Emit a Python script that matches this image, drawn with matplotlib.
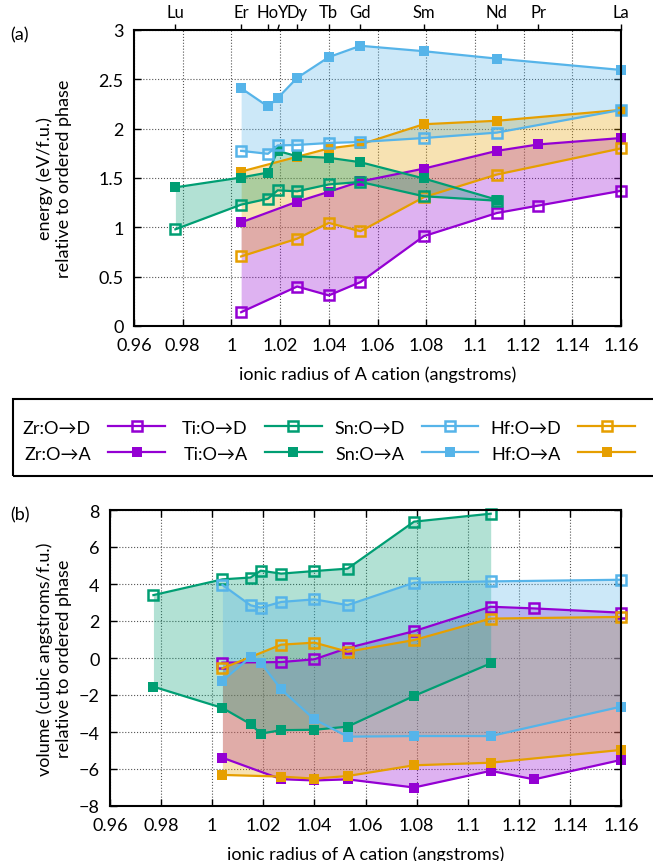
import matplotlib
matplotlib.use('Agg')
import matplotlib.pyplot as plt
from matplotlib.lines import Line2D
from matplotlib.patches import Rectangle

plt.rcParams['font.family'] = ['Lato', 'DejaVu Sans']
plt.rcParams['font.size'] = 13

# ionic radii of A cations (angstroms)
lu, er, ho, y_, dy, tb, gd, sm, nd, pr, la = 0.977, 1.004, 1.015, 1.019, 1.027, 1.040, 1.053, 1.079, 1.109, 1.126, 1.160
elem_names = ['Lu', 'Er', 'Ho', 'Dy', 'Tb', 'Gd', 'Sm', 'Nd', 'Pr', 'La']
elem_radii = [lu, er, ho, dy, tb, gd, sm, nd, pr, la]

zr_x = [er, dy, tb, gd, sm, nd, pr, la]
ti_x = [lu, er, ho, y_, dy, tb, gd, sm, nd]
sn_x = [er, ho, y_, dy, tb, gd, sm, nd, la]
hf_x = [er, dy, tb, gd, sm, nd, la]

# (a) energy, eV/f.u.
zr_e_od = [0.14, 0.40, 0.31, 0.445, 0.91, 1.145, 1.22, 1.37]
zr_e_oa = [1.05, 1.26, 1.36, 1.465, 1.595, 1.775, 1.84, 1.905]
ti_e_od = [0.98, 1.23, 1.29, 1.375, 1.365, 1.435, 1.46, 1.315, 1.27]
ti_e_oa = [1.405, 1.505, 1.555, 1.775, 1.72, 1.705, 1.66, 1.495, 1.28]
sn_e_od = [1.775, 1.745, 1.83, 1.835, 1.855, 1.865, 1.905, 1.96, 2.19]
sn_e_oa = [2.41, 2.225, 2.31, 2.515, 2.725, 2.84, 2.785, 2.71, 2.595]
hf_e_od = [0.705, 0.885, 1.045, 0.96, 1.305, 1.535, 1.80]
hf_e_oa = [1.565, 1.715, 1.80, 1.84, 2.045, 2.08, 2.19]

# (b) volume, cubic angstroms/f.u.
zr_v_od = [-0.25, -0.22, -0.07, 0.54, 1.45, 2.77, 2.68, 2.45]
zr_v_oa = [-5.39, -6.55, -6.62, -6.56, -7.0, -6.1, -6.56, -5.51]
ti_v_od = [3.4, 4.25, 4.35, 4.72, 4.56, 4.70, 4.83, 7.37, 7.80]
ti_v_oa = [-1.55, -2.70, -3.57, -4.09, -3.90, -3.88, -3.71, -2.05, -0.29]
sn_v_od = [3.95, 2.85, 2.72, 3.03, 3.17, 2.86, 4.07, 4.14, 4.23]
sn_v_oa = [-1.23, 0.05, -0.25, -1.70, -3.32, -4.25, -4.22, -4.22, -2.63]
hf_v_od = [-0.56, 0.72, 0.83, 0.34, 0.97, 2.13, 2.22]
hf_v_oa = [-6.32, -6.41, -6.52, -6.38, -5.80, -5.66, -4.97]

names = ['Zr', 'Ti', 'Sn', 'Hf']
colors = ['#9400d3', '#009e73', '#56b4e9', '#e69f00']
xs = [zr_x, ti_x, sn_x, hf_x]
energy = [(zr_e_od, zr_e_oa), (ti_e_od, ti_e_oa), (sn_e_od, sn_e_oa), (hf_e_od, hf_e_oa)]
volume = [(zr_v_od, zr_v_oa), (ti_v_od, ti_v_oa), (sn_v_od, sn_v_oa), (hf_v_od, hf_v_oa)]
draw_order = [0, 3, 1, 2]

xticks = [0.96, 0.98, 1.0, 1.02, 1.04, 1.06, 1.08, 1.1, 1.12, 1.14, 1.16]
xticklabels = ['0.96', '0.98', '1', '1.02', '1.04', '1.06', '1.08', '1.1', '1.12', '1.14', '1.16']

fig = plt.figure(figsize=(6.53, 8.62), dpi=100)
W, H = 653, 862
ax1 = fig.add_axes([134/W, 1-327/H, (621-134)/W, (327-31)/H])
ax2 = fig.add_axes([110/W, 1-807/H, (621-110)/W, (807-511)/H])

LW, MS, MEW = 1.6, 7.5, 1.8


def draw(ax, data):
    for i in draw_order:
        od, oa = data[i]
        ax.fill_between(xs[i], od, oa, color=colors[i], alpha=0.3, lw=0, zorder=1)
    for i in draw_order:
        od, oa = data[i]
        ax.plot(xs[i], od, '-s', color=colors[i], lw=LW, ms=MS, mfc='none', mew=MEW, zorder=3, clip_on=False)
        ax.plot(xs[i], oa, '-s', color=colors[i], lw=LW, ms=MS, mew=0, zorder=3, clip_on=False)
    ax.set_xlim(0.96, 1.16)
    ax.set_xticks(xticks)
    ax.set_xticklabels(xticklabels)
    ax.grid(True, ls=':', color='#555555', lw=0.8, zorder=0)
    ax.set_axisbelow(True)
    for s in ax.spines.values():
        s.set_linewidth(1.5)
        s.set_zorder(5)
    ax.tick_params(direction='in', length=5, width=1)
    ax.tick_params(axis='x', pad=8)
    ax.tick_params(axis='y', right=True, pad=7.5)
    ax.set_xlabel('ionic radius of A cation (angstroms)', labelpad=9)


draw(ax1, energy)
ax1.set_ylim(0, 3)
ax1.set_yticks([0, 0.5, 1, 1.5, 2, 2.5, 3])
ax1.set_yticklabels(['0', '0.5', '1', '1.5', '2', '2.5', '3'])
ax1.set_ylabel('energy (eV/f.u.)\nrelative to ordered phase')
ax1.yaxis.set_label_coords((72-134)/487, 0.5)

top = ax1.twiny()
top.set_xlim(0.96, 1.16)
top.set_xticks(elem_radii)
top.set_xticklabels(elem_names, fontsize=12)
top.tick_params(direction='out', length=4.5, width=1, pad=2.5)
top.annotate('Y', xy=(y_, 1.0), xycoords=('data', 'axes fraction'),
             xytext=(3.8, 7), textcoords='offset points', ha='center', va='bottom', fontsize=12,
             arrowprops=dict(arrowstyle='-', lw=1, shrinkA=1.5, shrinkB=0))
for s in top.spines.values():
    s.set_visible(False)

draw(ax2, volume)
ax2.set_ylim(-8, 8)
ax2.set_yticks(range(-8, 9, 2))
ax2.tick_params(axis='x', top=True)
ax2.set_ylabel('volume (cubic angstroms/f.u.)\nrelative to ordered phase')
ax2.yaxis.set_label_coords((72-110)/511, 0.5)

fig.text(10/W, 1-35/H, '(a)', va='center', ha='left')
fig.text(10/W, 1-515/H, '(b)', va='center', ha='left')

# legend: one column per compound, labels left of samples
fig.add_artist(Rectangle((13/W, 1-477/H), (700-13)/W, (477-400)/H, transform=fig.transFigure,
                         fill=False, edgecolor='black', lw=1.5))
for i, n in enumerate(names):
    hs = [Line2D([], [], color=colors[i], lw=LW, marker='s', ms=MS, mfc='none', mew=MEW),
          Line2D([], [], color=colors[i], lw=LW, marker='s', ms=MS, mew=0)]
    ls = [f'{n}:O\u2192D', f'{n}:O\u2192A']
    fig.legend(hs, ls, loc='center right', bbox_to_anchor=((165 + 156.7*i)/W, 1-441.7/H),
               frameon=False, borderpad=0, borderaxespad=0, markerfirst=False,
               handlelength=3.15, handletextpad=0.95, labelspacing=0.55)

fig.savefig('out.png', dpi=100)
